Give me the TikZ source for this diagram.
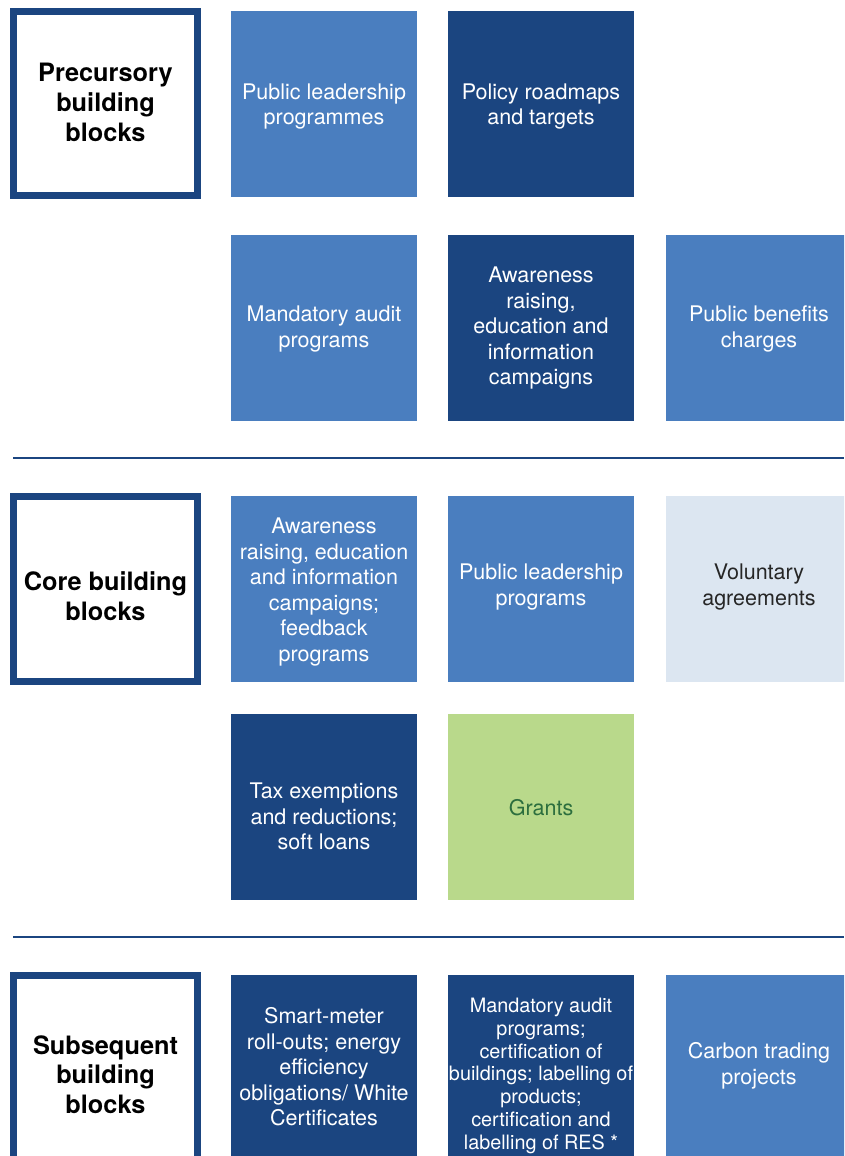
\documentclass[tikz,border=0pt]{standalone}
\usepackage{fontspec}
\setmainfont{TeX Gyre Heros}
\usetikzlibrary{positioning}
\definecolor{midblue}{HTML}{4A7EBF}
\definecolor{deepblue}{HTML}{1B4580}
\definecolor{paleblue}{HTML}{DCE6F1}
\definecolor{leafgreen}{HTML}{B9D98B}
\definecolor{grantgreen}{HTML}{2C6E3E}
% #1 = height of the first baseline above the block centre
\newcommand{\blocktext}[2]{\raisebox{#1}[0pt][0pt]{\begin{tabular}[t]{@{}c@{}}#2\end{tabular}}}

\begin{document}
\begin{tikzpicture}[
    x=0.025cm, y=-0.025cm,
    tile/.style={minimum width=4.65cm, minimum height=4.65cm, inner sep=0pt, font=\fontsize{15.3}{18.1}\selectfont},
    midtile/.style={tile, fill=midblue, text=white},
    deeptile/.style={tile, fill=deepblue, text=white},
    paletile/.style={tile, fill=paleblue, text=black!85},
    greentile/.style={tile, fill=leafgreen, text=grantgreen},
    headbox/.style={draw=deepblue, line width=5pt, fill=white, minimum width=4.6cm, minimum height=4.6cm, inner sep=0pt, font=\fontsize{18}{21.1}\selectfont\bfseries},
    divider/.style={deepblue, line width=1.8pt},
]
  \useasboundingbox (0,0) rectangle (844,1156);
  \clip (0,0) rectangle (844,1156);

  % Precursory building blocks
  \node[headbox] (pre) at (105.5, 103.5) {\blocktext{15.3pt}{Precursory\\building\\blocks}};
  \node[midtile] (pre1) at (324, 104) {\blocktext{3.3pt}{Public leadership\\programmes}};
  \node[deeptile] (pre2) at (541, 104) {\blocktext{3.3pt}{Policy roadmaps\\and targets}};
  \node[midtile] (pre3) at (324, 328) {\blocktext{4.4pt}{Mandatory audit\\programs}};
  \node[deeptile] (pre4) at (541, 328) {\blocktext{32.2pt}{Awareness\\raising,\\education and\\information\\campaigns}};
  \node[midtile] (pre5) at (759, 328) {\blocktext{4.4pt}{Public benefits\\charges}};

  \draw[divider] (13, 458) -- (844, 458);

  % Core building blocks
  \node[headbox] (core) at (105.5, 589) {\blocktext{-1.4pt}{Core building\\blocks}};
  \node[midtile] (core1) at (324, 589) {\blocktext{39.3pt}{Awareness\\raising, education\\and information\\campaigns;\\feedback\\programs}};
  \node[midtile] (core2) at (541, 589) {\blocktext{6.5pt}{Public leadership\\programs}};
  \node[paletile] (core3) at (759, 589) {\blocktext{6.5pt}{Voluntary\\agreements}};
  \node[deeptile] (core4) at (324, 807) {\blocktext{5.9pt}{Tax exemptions\\and reductions;\\soft loans}};
  \node[greentile] (core5) at (541, 807) {\blocktext{-5.7pt}{Grants}};

  \draw[divider] (13, 937) -- (844, 937);

  % Subsequent building blocks (cut off at the bottom)
  \node[headbox] (sub) at (105.5, 1067.5) {\blocktext{9.6pt}{Subsequent\\building\\blocks}};
  \node[deeptile] (sub1) at (324, 1068) {\blocktext{31.5pt}{Smart-meter\\roll-outs; energy\\efficiency\\obligations/ White\\Certificates}};
  \node[deeptile, font=\fontsize{14.1}{16.3}\selectfont] (sub2) at (541, 1068) {\blocktext{39.7pt}{Mandatory audit\\programs;\\certification of\\buildings; labelling of\\products;\\certification and\\labelling of RES *}};
  \node[midtile] (sub3) at (759, 1068) {\blocktext{6.5pt}{Carbon trading\\projects}};
\end{tikzpicture}
\end{document}
